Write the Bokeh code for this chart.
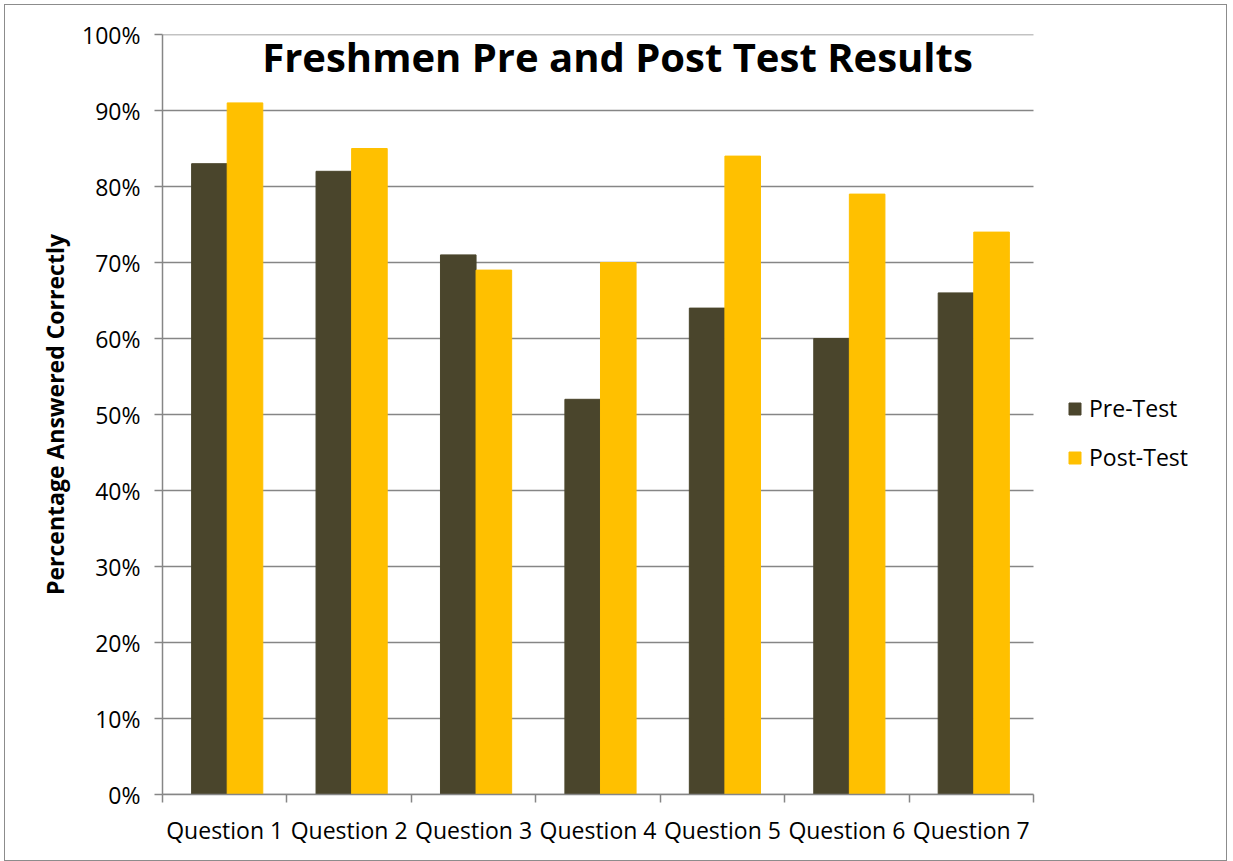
from bokeh.plotting import figure
from bokeh.models import (Range1d, FixedTicker, NumeralTickFormatter, CustomJSTickFormatter,
                          ColumnDataSource, Legend, LegendItem, Label)
from bokeh.embed import file_html
from bokeh.resources import INLINE

categories = ["Question 1", "Question 2", "Question 3", "Question 4",
              "Question 5", "Question 6", "Question 7"]
pre_test = [0.83, 0.82, 0.71, 0.52, 0.64, 0.60, 0.66]
post_test = [0.91, 0.85, 0.69, 0.70, 0.84, 0.79, 0.74]
y_ticks = [0.0, 0.1, 0.2, 0.3, 0.4, 0.5, 0.6, 0.7, 0.8, 0.9, 1.0]

PRE_COLOR = "#4A452C"
POST_COLOR = "#FFC000"
GRID = "#868686"
FONT = "Open Sans"

n = len(categories)
idx = list(range(n))
src = ColumnDataSource(dict(
    x_pre=[i + 0.52 - 0.143 for i in idx],
    x_post=[i + 0.52 + 0.143 for i in idx],
    pre=pre_test, post=post_test,
))

# screen layout (page px)
FL, FR, FT, FB = 163, 1220, 35, 795
PLOT_R = 1034
W, H = 1221, 855
x_max = n * (FR - FL) / (PLOT_R - FL)

p = figure(width=W, height=H, output_backend="svg", toolbar_location=None,
           x_range=Range1d(0, x_max), y_range=Range1d(0, 1))
p.styles = {"margin-left": "5px", "margin-top": "5px",
            "outline": "1.5px solid #8c8c8c"}
p.min_border_left = FL - 6
p.min_border_right = W - (FR - 6)
p.min_border_top = FT - 6
p.min_border_bottom = H - (FB - 6)
p.outline_line_color = None
p.background_fill_color = "white"
p.border_fill_color = "white"

# horizontal gridlines across the plot area only
p.segment(x0=[0] * len(y_ticks), x1=[n] * len(y_ticks), y0=y_ticks, y1=y_ticks,
          line_color=GRID, line_width=1.5)

r_pre = p.vbar(x="x_pre", top="pre", width=0.286, source=src, color=PRE_COLOR)
r_post = p.vbar(x="x_post", top="post", width=0.286, source=src, color=POST_COLOR)

# y axis
p.yaxis.ticker = FixedTicker(ticks=y_ticks)
p.yaxis.formatter = NumeralTickFormatter(format="0%")
p.yaxis.major_label_text_font = FONT
p.yaxis.major_label_text_font_size = "23px"
p.yaxis.major_label_text_color = "black"
p.yaxis.axis_line_color = GRID
p.yaxis.axis_line_width = 1.5
p.yaxis.major_tick_line_color = GRID
p.yaxis.major_tick_line_width = 1.5
p.yaxis.major_tick_out = 8
p.yaxis.major_tick_in = 0
p.yaxis.minor_tick_line_color = None
p.yaxis.major_label_standoff = 14
p.yaxis.axis_label = "Percentage Answered Correctly"
p.yaxis.axis_label_text_font = FONT
p.yaxis.axis_label_text_font_style = "bold"
p.yaxis.axis_label_text_font_size = "23px"
p.yaxis.axis_label_text_color = "black"
p.yaxis.axis_label_standoff = 8

# x axis
p.xaxis.bounds = (0, n)
p.xaxis.ticker = FixedTicker(ticks=[i + 0.5 for i in idx], minor_ticks=list(range(n + 1)))
p.xaxis.formatter = CustomJSTickFormatter(args=dict(labels=categories),
                                          code="return labels[Math.floor(tick)];")
p.xaxis.major_label_text_font = FONT
p.xaxis.major_label_text_font_size = "23px"
p.xaxis.major_label_text_color = "black"
p.xaxis.axis_line_color = GRID
p.xaxis.axis_line_width = 1.5
p.xaxis.major_tick_line_color = None
p.xaxis.major_tick_out = 0
p.xaxis.minor_tick_line_color = GRID
p.xaxis.minor_tick_line_width = 1.5
p.xaxis.minor_tick_out = 8
p.xaxis.minor_tick_in = 0
p.xaxis.major_label_standoff = 11

p.xgrid.grid_line_color = None
p.ygrid.grid_line_color = None

title = Label(x=(618 - FL) / (PLOT_R - FL) * n, y=0.971,
              text="Freshmen Pre and Post Test Results",
              text_font=FONT, text_font_style="bold", text_font_size="40px",
              text_align="center", text_baseline="middle", text_color="black")
p.add_layout(title)

legend = Legend(items=[LegendItem(label="Pre-Test", renderers=[r_pre]),
                       LegendItem(label="Post-Test", renderers=[r_post])],
                location=(1078 - 10 - FL, 321), orientation="vertical")
legend.label_text_font = FONT
legend.label_text_font_size = "23px"
legend.label_text_color = "black"
legend.glyph_width = 15
legend.glyph_height = 15
legend.label_height = 24
legend.spacing = 17
legend.label_standoff = 7
legend.margin = 0
legend.padding = 10
legend.border_line_color = None
legend.background_fill_alpha = 0
p.add_layout(legend)

open("out.html", "w").write(file_html(p, INLINE))
